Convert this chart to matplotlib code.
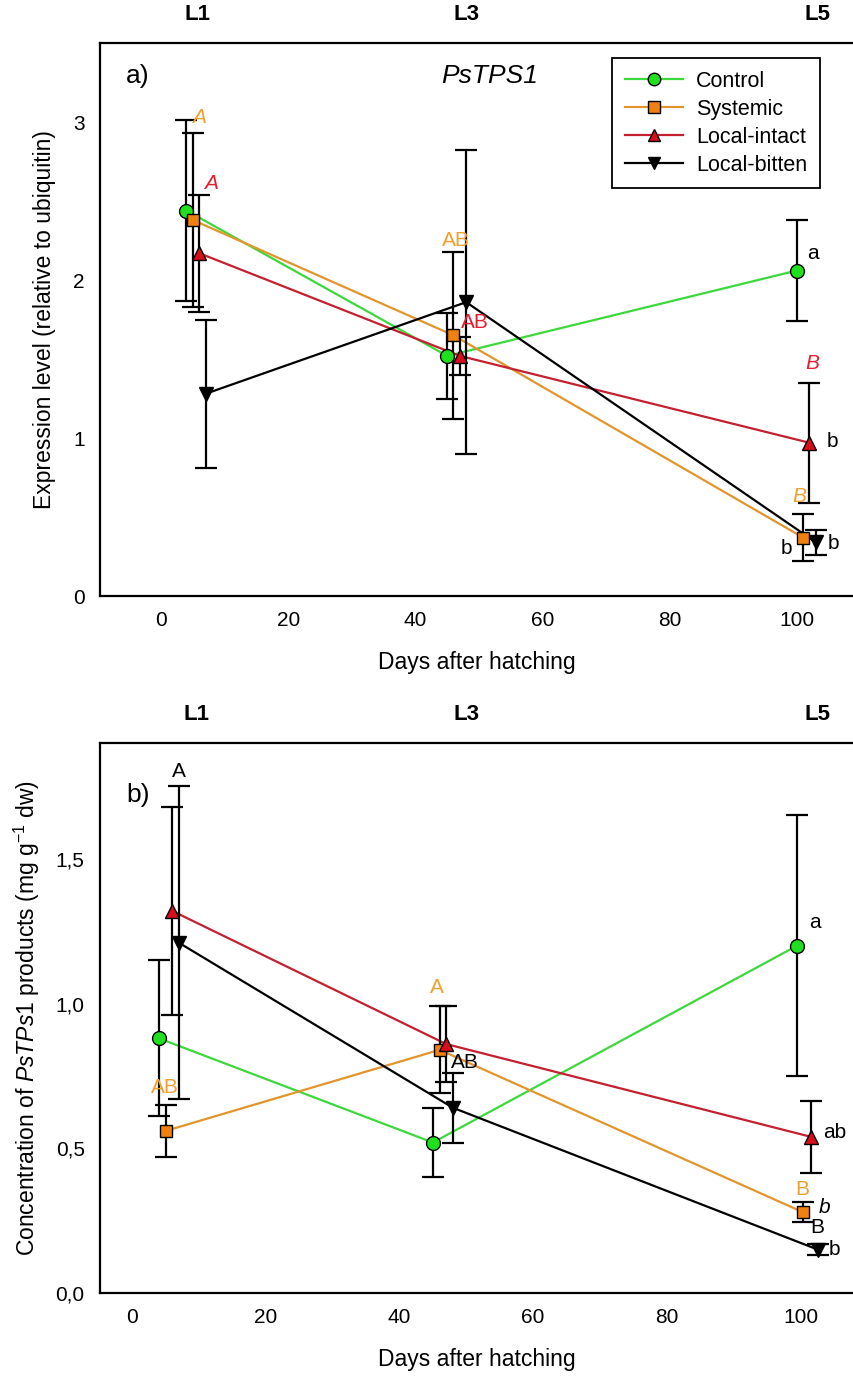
import matplotlib
matplotlib.use("Agg")
import matplotlib.pyplot as plt
from matplotlib.ticker import FuncFormatter
import matplotlib.transforms as mtransforms

plt.rcParams['font.family'] = ['Liberation Sans', 'DejaVu Sans']
plt.rcParams['mathtext.fontset'] = 'custom'
plt.rcParams['mathtext.rm'] = 'Liberation Sans'
plt.rcParams['mathtext.it'] = 'Liberation Sans:italic'

groups = ['Control', 'Systemic', 'Local-intact', 'Local-bitten']
stages = ['L1', 'L3', 'L5']

# panel a) PsTPS1 expression
days_a = {
    'Control': [4, 45, 100],
    'Systemic': [5, 46, 101],
    'Local-intact': [6, 47, 102],
    'Local-bitten': [7, 48, 103],
}
expr_mean = {
    'Control': [2.44, 1.52, 2.06],
    'Systemic': [2.38, 1.65, 0.37],
    'Local-intact': [2.17, 1.52, 0.97],
    'Local-bitten': [1.28, 1.86, 0.34],
}
expr_err = {
    'Control': [0.57, 0.27, 0.32],
    'Systemic': [0.55, 0.53, 0.15],
    'Local-intact': [0.37, 0.12, 0.38],
    'Local-bitten': [0.47, 0.96, 0.08],
}

# panel b) PsTPS1 product concentration
days_b = {
    'Control': [4, 45, 99.5],
    'Systemic': [5, 46, 100.3],
    'Local-intact': [6, 47, 101.5],
    'Local-bitten': [7, 48, 102.6],
}
conc_mean = {
    'Control': [0.88, 0.52, 1.20],
    'Systemic': [0.56, 0.84, 0.28],
    'Local-intact': [1.32, 0.86, 0.54],
    'Local-bitten': [1.21, 0.64, 0.15],
}
conc_err = {
    'Control': [0.27, 0.12, 0.45],
    'Systemic': [0.09, 0.15, 0.035],
    'Local-intact': [0.36, 0.13, 0.125],
    'Local-bitten': [0.54, 0.12, 0.02],
}

stage_x_a = [5.7, 48, 103.2]
stage_x_b = [9.7, 50, 102.5]

ORANGE_TXT = '#f0a030'
RED_TXT = '#e02030'

# letters: (x, y, text, colour, italic)
letters_a = [
    (6.0, 3.03, 'A', ORANGE_TXT, True),
    (7.8, 2.61, 'A', RED_TXT, True),
    (46.4, 2.25, 'AB', ORANGE_TXT, False),
    (49.3, 1.73, 'AB', RED_TXT, False),
    (102.5, 2.17, 'a', 'black', False),
    (102.4, 1.47, 'B', RED_TXT, True),
    (105.6, 0.98, 'b', 'black', False),
    (100.4, 0.63, 'B', ORANGE_TXT, True),
    (98.4, 0.30, 'b', 'black', False),
    (105.7, 0.33, 'b', 'black', False),
]
letters_b = [
    (7.0, 1.80, 'A', 'black', False),
    (4.9, 0.71, 'AB', ORANGE_TXT, False),
    (45.6, 1.055, 'A', ORANGE_TXT, False),
    (49.8, 0.795, 'AB', 'black', False),
    (102.1, 1.28, 'a', 'black', False),
    (105.1, 0.556, 'ab', 'black', False),
    (100.2, 0.356, 'B', ORANGE_TXT, False),
    (103.6, 0.297, 'b', 'black', True),
    (102.5, 0.225, 'B', 'black', False),
    (105.1, 0.149, 'b', 'black', False),
]

styles = {
    'Control': dict(line='#3cd83c', face='#1ee01e', marker='o', ms=10),
    'Systemic': dict(line='#e2952a', face='#f0800f', marker='s', ms=9),
    'Local-intact': dict(line='#c42030', face='#d80f1a', marker='^', ms=10),
    'Local-bitten': dict(line='black', face='black', marker='v', ms=10),
}


def draw_panel(ax, days, means, errs):
    for g in groups:
        st = styles[g]
        ax.plot(days[g], means[g], color=st['line'], lw=1.6, zorder=2)
        ax.errorbar(days[g], means[g], yerr=errs[g], fmt='none', ecolor='black',
                    elinewidth=1.6, capsize=8, capthick=1.6, zorder=3)
        ax.plot(days[g], means[g], linestyle='none', marker=st['marker'],
                ms=st['ms'], mfc=st['face'], mec='black', mew=1.0, zorder=4)
    for sp in ax.spines.values():
        sp.set_linewidth(1.6)
    ax.spines['right'].set_visible(False)
    ax.tick_params(length=0, labelsize=15, pad=11)
    ax.set_xticks([0, 20, 40, 60, 80, 100])
    ax.set_xlabel('Days after hatching', fontsize=16.5, labelpad=15)


def draw_letters(ax, letters):
    for x, y, s, c, it in letters:
        ax.text(x, y, s, color=c, fontsize=15, ha='center', va='center',
                style='italic' if it else 'normal', zorder=5)


def draw_stages(ax, xs):
    trans = mtransforms.blended_transform_factory(ax.transData, ax.transAxes)
    for x, s in zip(xs, stages):
        ax.text(x, 1.052, s, transform=trans, ha='center', va='center',
                fontsize=16, fontweight='bold')


fig = plt.figure(figsize=(8.54, 13.8), dpi=100)
ax1 = fig.add_axes([0.1171, 0.5681, 0.8829, 0.4007])
ax2 = fig.add_axes([0.1171, 0.0630, 0.8829, 0.3986])

# top panel
draw_panel(ax1, days_a, expr_mean, expr_err)
ax1.set_xlim(-9.6, 109)
ax1.set_ylim(0, 3.5)
ax1.set_yticks([0, 1, 2, 3])
ax1.set_ylabel('Expression level (relative to ubiquitin)', fontsize=16.5, labelpad=12)
draw_letters(ax1, letters_a)
draw_stages(ax1, stage_x_a)
ax1.text(0.05, 0.94, 'a)', transform=ax1.transAxes, fontsize=19, ha='center', va='center')
ax1.text(0.517, 0.94, 'PsTPS1', transform=ax1.transAxes, fontsize=19, style='italic',
         ha='center', va='center')
leg = ax1.legend(
    [plt.Line2D([], [], color=styles[g]['line'], lw=1.6, marker=styles[g]['marker'],
                ms=styles[g]['ms'] - 1, mfc=styles[g]['face'], mec='black') for g in groups],
    groups, loc='upper left', bbox_to_anchor=(0.679, 0.973), borderaxespad=0,
    fancybox=False, edgecolor='black', framealpha=1, handlelength=2.7,
    borderpad=0.6, labelspacing=0.32, handletextpad=0.6,
    prop={'size': 15.5})
leg.get_frame().set_linewidth(1.3)

# bottom panel
draw_panel(ax2, days_b, conc_mean, conc_err)
ax2.set_xlim(-4.8, 108)
ax2.set_ylim(0, 1.9)
ax2.set_yticks([0, 0.5, 1.0, 1.5])
ax2.yaxis.set_major_formatter(FuncFormatter(lambda v, p: f'{v:.1f}'.replace('.', ',')))
ax2.set_ylabel(r'Concentration of $\it{PsTPs1}$ products (mg g$^{-1}$ dw)', fontsize=16.5,
               labelpad=10)
draw_letters(ax2, letters_b)
draw_stages(ax2, stage_x_b)
ax2.text(0.05, 0.905, 'b)', transform=ax2.transAxes, fontsize=19, ha='center', va='center')

fig.savefig('out.png', dpi=100)
